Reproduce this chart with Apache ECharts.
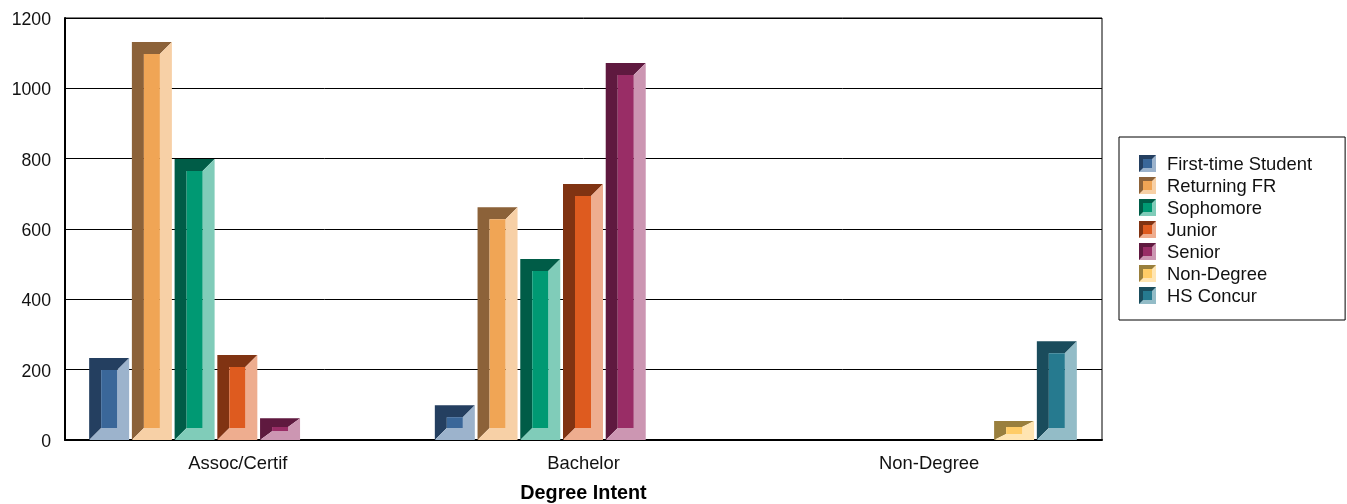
<!DOCTYPE html>
<html><head><meta charset="utf-8">
<style>html,body{margin:0;padding:0;background:#fff}#c{width:1347px;height:504px}</style>
<script src="https://cdn.jsdelivr.net/npm/echarts@6/dist/echarts.min.js"></script>
</head><body><div id="c"></div>
<script>
const categories = ['Assoc/Certif', 'Bachelor', 'Non-Degree'];
const seriesNames = ['First-time Student', 'Returning FR', 'Sophomore', 'Junior', 'Senior', 'Non-Degree', 'HS Concur'];
const firstTime = [233, 99, null];
const returningFR = [1132, 662, null];
const sophomore = [799, 515, null];
const junior = [242, 728, null];
const senior = [62, 1072, null];
const nonDegree = [null, null, 54];
const hsConcur = [null, null, 281];
const allValues = [firstTime, returningFR, sophomore, junior, senior, nonDegree, hsConcur];
const darkColors = ['#243F60', '#8C6239', '#005C47', '#803312', '#5F193F', '#997F3D', '#1A4C5C'];
const frontColors = ['#3A6799', '#F0A555', '#009973', '#DE5B1F', '#992D66', '#FFCC66', '#267A8F'];
const lightColors = ['#9CB3CC', '#F7D0A6', '#80CCB9', '#EEAD8F', '#CC96B2', '#FFE5B2', '#93BCC7'];

function legendIcon(i) {
  const svg = `<svg xmlns="http://www.w3.org/2000/svg" width="51" height="51" viewBox="0 0 17 17">` +
    `<rect width="17" height="17" fill="${darkColors[i]}"/>` +
    `<polygon points="17,0 17,17 0,17 4,13 13,13 13,4" fill="${lightColors[i]}"/>` +
    `<rect x="4" y="4" width="9" height="9" fill="${frontColors[i]}"/></svg>`;
  return 'image://data:image/svg+xml;charset=utf-8,' + encodeURIComponent(svg);
}

function makeRender(i) {
  return function (params, api) {
    const cat = api.value(0), val = api.value(1);
    const base = api.coord([cat, 0]);
    const top = api.coord([cat, val]);
    const band = api.size([1, 0])[0];
    const pitch = band * 0.1236;
    const w = 40;
    const x0 = base[0] - 0.5 + (i - 3) * pitch - w / 2, x1 = x0 + w;
    const y0 = top[1], y1 = base[1];
    const ix = 12;
    const iy = Math.max(0, Math.min(12, (y1 - y0) - 13));
    const ax = x0 + ix, bx = x1 - ix, ay = y0 + iy, by = y1 - iy;
    const poly = (pts, fill) => ({ type: 'polygon', shape: { points: pts }, style: { fill: fill } });
    return {
      type: 'group',
      children: [
        poly([[x0, y0], [x1, y0], [bx, ay], [ax, ay], [ax, by], [x0, y1]], darkColors[i]),
        poly([[x1, y0], [x1, y1], [x0, y1], [ax, by], [bx, by], [bx, ay]], lightColors[i]),
        { type: 'rect', shape: { x: ax, y: ay, width: bx - ax, height: by - ay }, style: { fill: frontColors[i] } }
      ]
    };
  };
}

const font = '"Liberation Sans", Arial, sans-serif';
const chart = echarts.init(document.getElementById('c'), null, { renderer: 'canvas' });
chart.setOption({
  animation: false,
  backgroundColor: '#fff',
  grid: { left: 65, right: 245, top: 18, bottom: 64, show: true, borderColor: '#000', borderWidth: 1, backgroundColor: 'transparent', outerBoundsMode: 'none' },
  legend: {
    orient: 'vertical', left: 1119, top: 137,
    padding: [18, 33, 14, 20],
    itemWidth: 17, itemHeight: 17, itemGap: 3,
    borderColor: '#000', borderWidth: 1,
    formatter: n => `{a|${n}}`,
    textStyle: {
      fontFamily: font, fontSize: 18.4, color: '#111', padding: [0, 0, 0, 6],
      rich: { a: { fontFamily: font, fontSize: 18.4, color: '#111', height: 18, padding: [3, 0, 0, 0] } }
    },
    data: seriesNames.map((n, i) => ({ name: n, icon: legendIcon(i) }))
  },
  xAxis: {
    type: 'category', data: categories,
    name: 'Degree Intent', nameLocation: 'middle', nameGap: 44,
    nameTextStyle: { fontFamily: font, fontSize: 19.8, fontWeight: 'bold', color: '#000' },
    axisLine: { lineStyle: { color: '#000', width: 2 } },
    axisTick: { show: false },
    axisLabel: { fontFamily: font, fontSize: 18.4, color: '#111', margin: 15 }
  },
  yAxis: {
    type: 'value', min: 0, max: 1200, interval: 200,
    axisLine: { show: true, lineStyle: { color: '#000', width: 2 } },
    axisTick: { show: false },
    axisLabel: {
      margin: 14, fontFamily: font, fontSize: 17.7, color: '#111',
      formatter: v => `{a|${v}}`,
      rich: { a: { fontFamily: font, fontSize: 17.7, color: '#111', padding: [4, 0, 0, 0] } }
    },
    splitLine: { show: true, lineStyle: { color: '#000', width: 1 } }
  },
  series: seriesNames.map((n, i) => ({
    name: n, type: 'custom', renderItem: makeRender(i),
    encode: { x: 0, y: 1 },
    itemStyle: { color: frontColors[i] },
    data: allValues[i].map((v, c) => [c, v]).filter(d => d[1] !== null)
  }))
});
</script></body></html>
